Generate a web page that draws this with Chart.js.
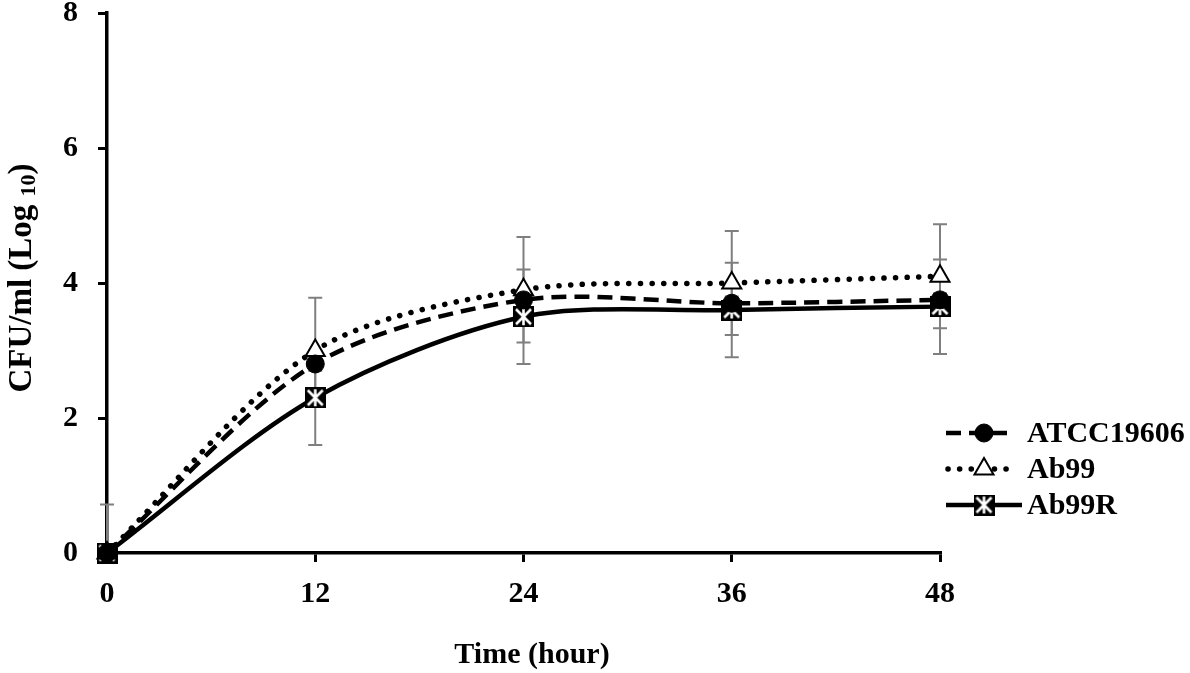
<!DOCTYPE html>
<html>
<head>
<meta charset="utf-8">
<script src="https://cdn.jsdelivr.net/npm/chart.js@4"></script>
<style>
  html, body { margin: 0; padding: 0; background: #fff; }
  #wrap { width: 1190px; height: 673px; }
</style>
</head>
<body>
<div id="wrap"><canvas id="growthChart"></canvas></div>
<script>
// data
var hours = [0, 12, 24, 36, 48];
var atccValues = [0, 2.8, 3.75, 3.7, 3.75];
var ab99Values = [0, 3.0, 3.9, 4.0, 4.1];
var ab99rValues = [0, 2.3, 3.5, 3.6, 3.65];
var atccErrors = [0, 0.1, 0.1, 0.1, 0.1];
var ab99Errors = [0.72, 0.78, 0.78, 0.77, 0.77];
var ab99rErrors = [0, 0.7, 0.7, 0.7, 0.7];
var yTicks = [0, 2, 4, 6, 8];
var seriesNames = ['ATCC19606', 'Ab99', 'Ab99R'];

var serif = '"Liberation Serif", "Times New Roman", serif';
var boldFont = 'bold 30px ' + serif;

// black square with white asterisk marker
function starBox(size) {
    var c = document.createElement('canvas');
    c.width = size; c.height = size;
    var g = c.getContext('2d');
    g.fillStyle = '#000';
    g.fillRect(0, 0, size, size);
    g.strokeStyle = '#fff';
    g.lineWidth = 2.6;
    g.beginPath();
    g.moveTo(3, 3); g.lineTo(size - 3, size - 3);
    g.moveTo(size - 3, 3); g.lineTo(3, size - 3);
    g.moveTo(size / 2, 2); g.lineTo(size / 2, size - 2);
    g.stroke();
    return c;
}
var starMarker = starBox(21);

function toPoints(values) {
    return values.map(function (v, i) { return { x: hours[i], y: v }; });
}

var errorBarPlugin = {
    id: 'errorBars',
    beforeDatasetsDraw: function (chart) {
        var ctx = chart.ctx, xs = chart.scales.x, ys = chart.scales.y, area = chart.chartArea;
        ctx.save();
        ctx.beginPath();
        ctx.rect(area.left - 20, area.top - 20, area.right - area.left + 40, area.bottom - area.top + 18);
        ctx.clip();
        ctx.strokeStyle = '#7f7f7f';
        ctx.lineWidth = 2;
        chart.data.datasets.forEach(function (ds) {
            ds.errors.forEach(function (e, i) {
                if (!e) return;
                var px = xs.getPixelForValue(hours[i]);
                var top = ys.getPixelForValue(ds.data[i].y + e);
                var bot = ys.getPixelForValue(ds.data[i].y - e);
                ctx.beginPath();
                ctx.moveTo(px, top); ctx.lineTo(px, bot);
                ctx.moveTo(px - 7, top); ctx.lineTo(px + 7, top);
                ctx.moveTo(px - 7, bot); ctx.lineTo(px + 7, bot);
                ctx.stroke();
            });
        });
        ctx.restore();
    }
};

var textPlugin = {
    id: 'axisTexts',
    afterDraw: function (chart) {
        var ctx = chart.ctx;
        ctx.save();
        ctx.fillStyle = '#000';
        ctx.font = boldFont;
        ctx.textBaseline = 'middle';
        ctx.textAlign = 'center';
        ctx.fillText('Time (hour)', 532, 655);

        // y title with subscript
        ctx.translate(22, 278);
        ctx.rotate(-Math.PI / 2);
        var main = 'CFU/ml (Log ', sub = '10', tail = ')';
        var mainFont = 'bold 33px ' + serif, subFont = 'bold 22px ' + serif;
        ctx.font = mainFont;
        var w1 = ctx.measureText(main).width, w3 = ctx.measureText(tail).width;
        ctx.font = subFont;
        var w2 = ctx.measureText(sub).width;
        var x0 = -(w1 + w2 + w3) / 2;
        ctx.textAlign = 'left';
        ctx.font = mainFont;
        ctx.fillText(main, x0, 0);
        ctx.font = subFont;
        ctx.fillText(sub, x0 + w1, 7);
        ctx.font = mainFont;
        ctx.fillText(tail, x0 + w1 + w2, 0);
        ctx.restore();

        // legend
        var rows = [433, 469, 505];
        chart.data.datasets.forEach(function (ds, i) {
            var y = rows[i];
            ctx.save();
            ctx.strokeStyle = '#000';
            ctx.lineWidth = ds.borderWidth;
            ctx.lineCap = ds.borderCapStyle || 'butt';
            ctx.setLineDash(ds.borderDash || []);
            ctx.beginPath();
            ctx.moveTo(i === 1 ? 948 : 946, y);
            ctx.lineTo(i === 2 ? 1022 : 1012, y);
            ctx.stroke();
            ctx.setLineDash([]);
            var opts = {
                pointStyle: ds.pointStyle, radius: ds.pointRadius,
                borderWidth: ds.pointBorderWidth, rotation: 0
            };
            ctx.fillStyle = ds.pointBackgroundColor;
            ctx.strokeStyle = '#000';
            ctx.lineWidth = ds.pointBorderWidth;
            Chart.helpers.drawPoint(ctx, opts, 984, y);
            ctx.fillStyle = '#000';
            ctx.font = boldFont;
            ctx.textAlign = 'left';
            ctx.textBaseline = 'middle';
            ctx.fillText(seriesNames[i], 1027, y + 1);
            ctx.restore();
        });
    }
};

var tickFont = { family: serif, size: 30, weight: 'bold' };

var ctx = document.getElementById('growthChart');
var growthChart = new Chart(ctx, {
    type: 'line',
    data: {
        datasets: [{
            label: seriesNames[0],
            data: toPoints(atccValues),
            errors: atccErrors,
            borderColor: '#000',
            borderWidth: 4.5,
            borderDash: [15, 8],
            pointStyle: 'circle',
            pointRadius: 9,
            pointBackgroundColor: '#000',
            pointBorderColor: '#000',
            pointBorderWidth: 1,
            tension: 0.3,
            clip: false
        }, {
            label: seriesNames[1],
            data: toPoints(ab99Values),
            errors: ab99Errors,
            borderColor: '#000',
            borderWidth: 5.5,
            borderDash: [0.1, 11.5],
            borderCapStyle: 'round',
            pointStyle: 'triangle',
            pointRadius: 11,
            pointBackgroundColor: '#fff',
            pointBorderColor: '#000',
            pointBorderWidth: 2,
            tension: 0.3,
            clip: false
        }, {
            label: seriesNames[2],
            data: toPoints(ab99rValues),
            errors: ab99rErrors,
            borderColor: '#000',
            borderWidth: 4.5,
            pointStyle: starMarker,
            pointRadius: 10,
            pointBackgroundColor: '#000',
            pointBorderColor: '#000',
            pointBorderWidth: 1,
            tension: 0.3,
            clip: false
        }]
    },
    options: {
        responsive: true,
        maintainAspectRatio: false,
        animation: false,
        layout: { padding: { left: 0, top: 13, right: 250, bottom: 0 } },
        plugins: {
            legend: { display: false },
            tooltip: { enabled: false }
        },
        scales: {
            x: {
                type: 'linear',
                min: 0, max: 48,
                afterBuildTicks: function (axis) {
                    axis.ticks = hours.map(function (h) { return { value: h }; });
                },
                afterFit: function (axis) { axis.height = 120; axis.paddingLeft = 0; axis.paddingRight = 0; },
                grid: { drawOnChartArea: false, drawTicks: true, tickLength: 9, color: '#000', lineWidth: 3 },
                border: { display: true, color: '#000', width: 3.5 },
                ticks: { color: '#000', padding: 14, font: tickFont }
            },
            y: {
                type: 'linear',
                min: 0, max: 8,
                afterBuildTicks: function (axis) {
                    axis.ticks = yTicks.map(function (v) { return { value: v }; });
                },
                afterFit: function (axis) { axis.width = 107; axis.paddingTop = 0; axis.paddingBottom = 0; },
                grid: { drawOnChartArea: false, drawTicks: true, tickLength: 9, color: '#000', lineWidth: 3 },
                border: { display: true, color: '#000', width: 3.5 },
                ticks: { color: '#000', padding: 20, font: tickFont }
            }
        }
    },
    plugins: [errorBarPlugin, textPlugin]
});
</script>
</body>
</html>
